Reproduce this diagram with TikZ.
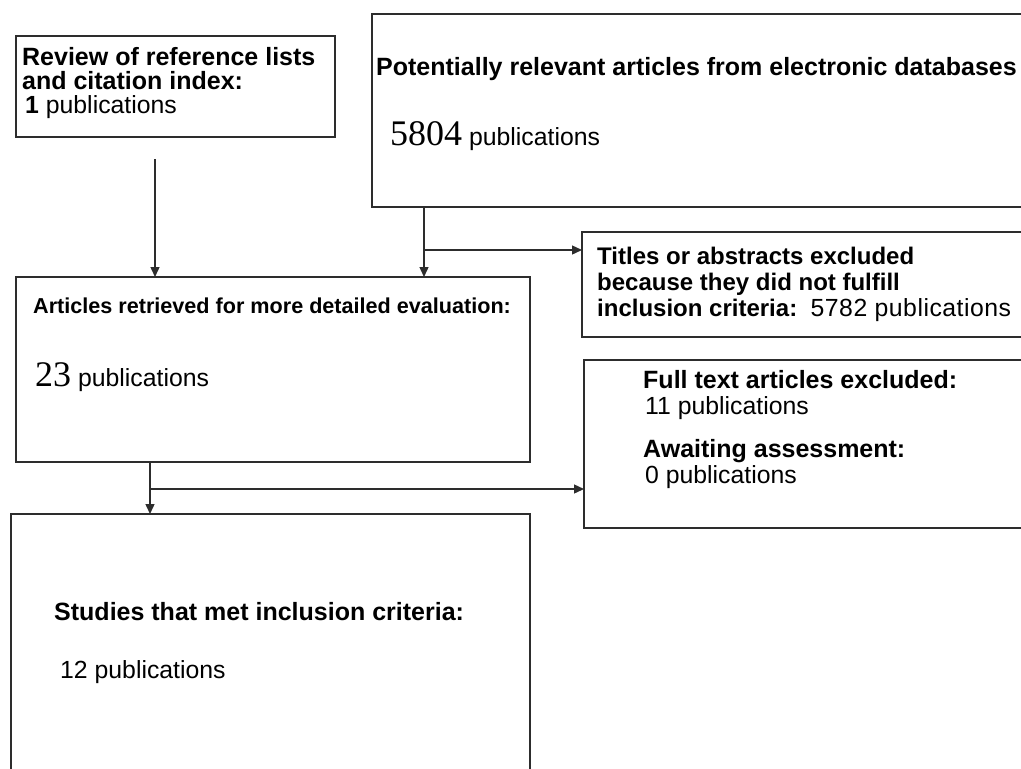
\documentclass[tikz,border=0pt]{standalone}
\usepackage{fontspec}
\setmainfont{Liberation Sans}
\newfontfamily\numfont{Liberation Serif}
\newfontfamily\spacedfont[LetterSpace=2]{Liberation Sans}
\newcommand{\bignumfont}{\fontsize{36}{36}\selectfont\numfont}
\usetikzlibrary{arrows.meta,positioning}

\definecolor{flowLine}{RGB}{45,45,45}

\begin{document}
\begin{tikzpicture}[x=1pt, y=-1pt,
  box/.style={draw=flowLine, line width=1.4pt, anchor=north west, inner sep=0pt, outer sep=0pt},
  txt/.style={anchor=base west, inner sep=0pt},
  hd/.style={txt, font=\fontsize{25}{25}\selectfont\bfseries},
  hdsmall/.style={txt, font=\fontsize{21.6}{22}\selectfont\bfseries},
  hdmid/.style={txt, font=\fontsize{24}{24}\selectfont\bfseries},
  pub/.style={txt, font=\fontsize{24.8}{25}\selectfont},
  flow/.style={draw=flowLine, line width=1.4pt, -{Triangle[length=10pt, width=9pt]}},
]

%% -- page frame -------------------------------------------
\useasboundingbox (0,0) rectangle (1021,769);
\clip (0,0) rectangle (1021,769);

%% -- boxes (top-left corner, size in px) ------------------
\node[box, minimum width=319, minimum height=101] (review)    at (16,36)  {};
\node[box, minimum width=700, minimum height=193] (databases) at (372,14) {};
\node[box, minimum width=500, minimum height=105] (titles)    at (582,232) {};
\node[box, minimum width=514, minimum height=185] (articles)  at (16,277) {};
\node[box, minimum width=500, minimum height=168] (fulltext)  at (584,360) {};
\node[box, minimum width=519, minimum height=300] (studies)   at (11,514) {};

%% -- texts ------------------------------------------------
\node[hd]  (reviewA) at (22,65)  {Review of reference lists};
\node[hd]  (reviewB) at (22,89)  {and citation index:};
\node[pub] (reviewC) at (25,113) {\textbf{1} publications};

\node[hd]  (dbA) at (376,75)  {Potentially relevant articles from electronic databases};
\node[pub] (dbB) at (390,145) {{\bignumfont 5804} publications};

\node[hdmid] (titlesA) at (597,264) {Titles or abstracts excluded};
\node[hdmid] (titlesB) at (597,290) {because they did not fulfill};
\node[hdmid] (titlesC) at (597,316) {inclusion criteria:};
\node[pub]   (titlesD) at ([xshift=13]titlesC.base east) {\spacedfont 5782 publications};

\node[hdsmall] (artA) at (33,313) {Articles retrieved for more detailed evaluation:};
\node[pub]     (artB) at (35,386) {{\bignumfont 23} publications};

\node[hd]  (fullA) at (643,388) {Full text articles excluded:};
\node[pub] (fullB) at (645,414) {11 publications};
\node[hd]  (waitA) at (643,457) {Awaiting assessment:};
\node[pub] (waitB) at (645,483) {0 publications};

\node[hd]  (studA) at (54,620) {Studies that met inclusion criteria:};
\node[pub] (studB) at (60,678) {12 publications};

%% -- connectors -------------------------------------------
\coordinate (revout) at (155,159);
\coordinate (dbout)  at (databases.south west -| 424,0);
\coordinate (split1) at (424,250);
\coordinate (artout) at (articles.south west -| 150,0);
\coordinate (split2) at (150,489);

\draw[flow] (revout) -- (revout |- articles.north);
\draw[flow] (dbout) -- (dbout |- articles.north);
\draw[flow] (split1) -- (split1 -| titles.west);
\draw[flow] (artout) -- (artout |- studies.north);
\draw[flow] (split2) -- (split2 -| fulltext.west);

\end{tikzpicture}
\end{document}
